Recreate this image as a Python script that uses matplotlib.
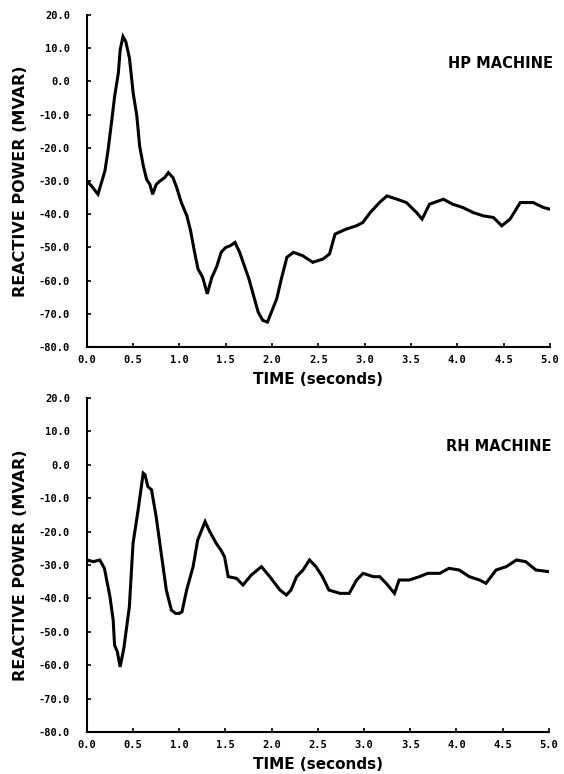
import matplotlib
matplotlib.use("Agg")
import matplotlib.pyplot as plt

# HP machine reactive power
hp_time = [0.00, 0.05, 0.12, 0.195, 0.23, 0.27, 0.30, 0.34, 0.36, 0.39, 0.42,
           0.46, 0.50, 0.54, 0.57, 0.61, 0.645, 0.68, 0.71, 0.75, 0.79, 0.84,
           0.88, 0.93, 0.97, 1.02, 1.08, 1.12, 1.16, 1.20, 1.25, 1.30, 1.35,
           1.40, 1.45, 1.50, 1.55, 1.60, 1.65, 1.70, 1.75, 1.80, 1.85, 1.90,
           1.95, 2.00, 2.05, 2.10, 2.16, 2.23, 2.33, 2.44, 2.55, 2.62, 2.68,
           2.80, 2.91, 2.98, 3.06, 3.16, 3.24, 3.35, 3.45, 3.56, 3.62, 3.70,
           3.85, 3.95, 4.06, 4.17, 4.28, 4.39, 4.48, 4.57, 4.68, 4.82, 4.93, 5.00]
hp_mvar = [-30.0, -31.5, -34.0, -27.0, -20.5, -11.5, -4.5, 2.5, 9.5, 13.5, 12.0,
           7.0, -3.5, -10.5, -19.5, -25.5, -29.5, -31.0, -34.0, -31.0, -30.0, -29.0,
           -27.5, -29.0, -32.0, -36.5, -40.5, -45.0, -51.0, -56.5, -59.0, -64.0, -59.0,
           -56.0, -51.5, -50.0, -49.5, -48.5, -51.5, -55.5, -59.5, -64.5, -69.5, -72.0,
           -72.5, -69.0, -65.5, -59.5, -53.0, -51.5, -52.5, -54.5, -53.5, -52.0, -46.0,
           -44.5, -43.5, -42.5, -39.5, -36.5, -34.5, -35.5, -36.5, -39.5, -41.5, -37.0,
           -35.5, -37.0, -38.0, -39.5, -40.5, -41.0, -43.5, -41.5, -36.5, -36.5, -38.0, -38.5]

# RH machine reactive power
rh_time = [0.00, 0.07, 0.14, 0.19, 0.25, 0.285, 0.30, 0.33, 0.36, 0.40, 0.46,
           0.50, 0.555, 0.61, 0.63, 0.66, 0.70, 0.75, 0.81, 0.86, 0.915, 0.96,
           1.00, 1.03, 1.08, 1.15, 1.20, 1.28, 1.33, 1.40, 1.45, 1.49, 1.53,
           1.62, 1.69, 1.78, 1.89, 1.98, 2.09, 2.16, 2.21, 2.27, 2.34, 2.41,
           2.48, 2.55, 2.62, 2.74, 2.84, 2.92, 2.99, 3.10, 3.17, 3.24, 3.33,
           3.38, 3.49, 3.60, 3.69, 3.82, 3.92, 4.03, 4.14, 4.25, 4.32, 4.43,
           4.54, 4.65, 4.75, 4.86, 5.00]
rh_mvar = [-28.5, -29.0, -28.5, -31.0, -39.5, -46.5, -54.0, -56.0, -60.5, -55.0, -42.5,
           -23.5, -13.5, -2.5, -3.0, -6.5, -7.5, -15.5, -27.5, -37.5, -43.5, -44.5,
           -44.5, -44.0, -37.5, -30.5, -22.5, -17.0, -20.0, -23.5, -25.5, -27.5, -33.5,
           -34.0, -36.0, -33.0, -30.5, -33.5, -37.5, -39.0, -37.5, -33.5, -31.5, -28.5,
           -30.5, -33.5, -37.5, -38.5, -38.5, -34.5, -32.5, -33.5, -33.5, -35.5, -38.5,
           -34.5, -34.5, -33.5, -32.5, -32.5, -31.0, -31.5, -33.5, -34.5, -35.5, -31.5,
           -30.5, -28.5, -29.0, -31.5, -32.0]

x_ticks = [0.0, 0.5, 1.0, 1.5, 2.0, 2.5, 3.0, 3.5, 4.0, 4.5, 5.0]
y_ticks = [20, 10, 0, -10, -20, -30, -40, -50, -60, -70, -80]

panels = [
    (hp_time, hp_mvar, "HP MACHINE", [0.154, 0.5517, 0.821, 0.429]),
    (rh_time, rh_mvar, "RH MACHINE", [0.154, 0.0543, 0.819, 0.4315]),
]

fig = plt.figure(figsize=(5.64, 7.74), dpi=100)
tick_font = dict(family="DejaVu Sans Mono", weight="bold", size=7.5)

for t, q, name, rect in panels:
    ax = fig.add_axes(rect)
    ax.plot(t, q, color="black", lw=2.2, solid_joinstyle="miter")
    ax.set_xlim(0, 5.0)
    ax.set_ylim(-80, 20)
    ax.set_xticks(x_ticks)
    ax.set_yticks(y_ticks)
    ax.set_xticklabels([f"{v:.1f}" for v in x_ticks], fontdict=tick_font)
    ax.set_yticklabels([f"{v:.1f}" for v in y_ticks], fontdict=tick_font)
    ax.tick_params(axis="y", direction="in", length=3, width=1.2, pad=12)
    ax.tick_params(axis="x", direction="in", length=3, width=1.2, pad=6)
    for side in ["top", "right"]:
        ax.spines[side].set_visible(False)
    for side in ["left", "bottom"]:
        ax.spines[side].set_linewidth(1.5)
    ax.set_xlabel("TIME (seconds)", fontsize=11, fontweight="bold", labelpad=5)
    ax.set_ylabel("REACTIVE POWER (MVAR)", fontsize=11.5, fontweight="bold", labelpad=8)
    ax.text(1.006, 0.855, name, transform=ax.transAxes, ha="right", va="center",
            fontsize=10.5, fontweight="bold")

fig.savefig("out.png", dpi=100)
